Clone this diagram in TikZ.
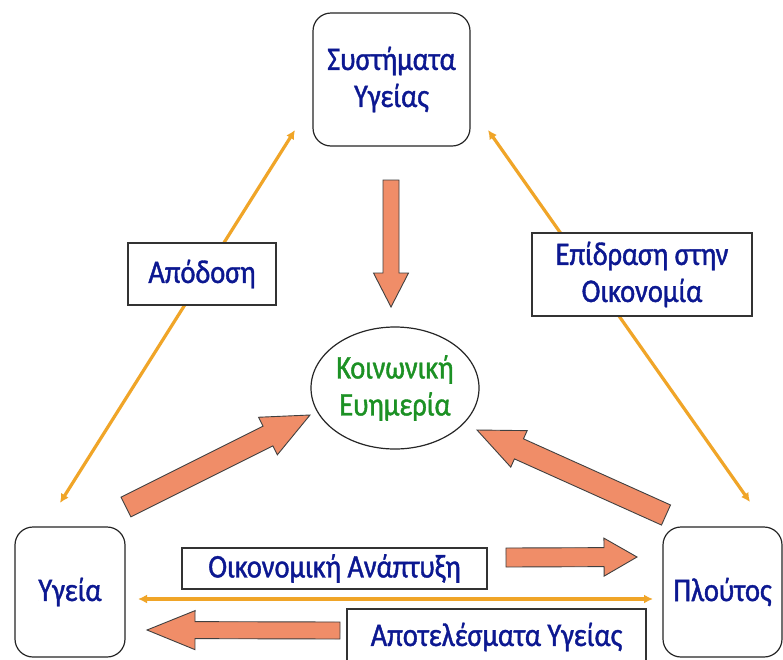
\documentclass[tikz,border=0pt]{standalone}
\usepackage{fontspec}
\setmainfont{Carlito}[FakeStretch=0.86, FakeBold=1.2]
\usetikzlibrary{calc,shapes.geometric,arrows.meta}
\usepackage{xcolor}

\definecolor{textblue}{RGB}{12,24,145}
\definecolor{textgreen}{RGB}{28,145,36}
\definecolor{salmon}{RGB}{240,141,104}
\definecolor{amber}{RGB}{240,165,40}

% block arrow: tail, tip, half shaft width, half head width, head length
\newcommand{\blockarrow}[5]{%
  \coordinate (headbase) at ($(#2)!#5!(#1)$);
  \draw[bigarrow] ($(#1)!#3!90:(#2)$) -- ($(headbase)!#3!-90:(#1)$)
    -- ($(headbase)!#4!-90:(#1)$) -- (#2) -- ($(headbase)!#4!90:(#1)$)
    -- ($(headbase)!#3!90:(#1)$) -- ($(#1)!#3!-90:(#2)$) -- cycle;}

\begin{document}
\begin{tikzpicture}
[x=1pt, y=-1pt,
every node/.style={font=\fontsize{33}{37}\selectfont, align=center, text=textblue},
% The factor style is used for the three rounded boxes
factor/.style={draw=black!85, line width=1.2pt, rounded corners=18pt, fill=white},
% The effect style is used for the names of the relations
effect/.style={rectangle, draw=black!80, line width=1.6pt, fill=white},
% The link style is used for the thin orange double arrows
link/.style={draw=amber, line width=3.2pt, {Latex[length=9pt,width=9pt]}-{Latex[length=9pt,width=9pt]}},
% The bigarrow style is used for the thick salmon arrows
bigarrow/.style={draw=black!75, line width=0.9pt, fill=salmon, line join=miter}
]
\useasboundingbox (0,0) rectangle (783,659);
\clip (0,0) rectangle (783,659);
\fill[white] (0,0) rectangle (783,659);

% Draw the orange links first, boxes come on top
\coordinate (systimataleft) at (295,130);
\coordinate (ygeiatop) at (60,503);
\coordinate (systimataright) at (488,130);
\coordinate (ploutostop) at (750,502);
\coordinate (ygeiaright) at (138,599);
\coordinate (ploutosleft) at (653,599);
\draw[link] (systimataleft) -- (ygeiatop);
\draw[link] (systimataright) -- (ploutostop);
\draw[link] (ygeiaright) -- (ploutosleft);

% Draw factors
\node [factor, minimum width=157pt, minimum height=133pt] (systimata) at (391.5,79.5) {Συστήματα\\Υγείας};
\node [factor, minimum width=110pt, minimum height=130pt] (ygeia) at (70,592) {Υγεία};
\node [factor, minimum width=119pt, minimum height=130pt] (ploutos) at (722.5,592) {Πλούτος};
\node [ellipse, draw=black!85, line width=1.2pt, fill=white, minimum width=168pt, minimum height=122pt, inner sep=0pt, text=textgreen] (evimeria) at (395,388) {Κοινωνική\\Ευημερία};

% Draw relations
\node [effect, minimum width=148pt, minimum height=62pt] (apodosi) at (202,274) {Απόδοση};
\node [effect, minimum width=220pt, minimum height=83pt] (epidrasi) at (642,274.5) {Επίδραση στην\\Οικονομία};
\node [effect, minimum width=305pt, minimum height=41pt, inner sep=0pt] (anaptyxi) at (334.5,568.5) {Οικονομική Ανάπτυξη};
\node [effect, minimum width=299pt, minimum height=56pt] (apotelesmata) at (496.5,637) {Αποτελέσματα Υγείας};

% Draw the big arrows
\coordinate (downtail) at (391,180);
\coordinate (downtip) at (391,307);
\coordinate (lefttail) at (126,507);
\coordinate (lefttip) at (310,415);
\coordinate (righttail) at (666,515);
\coordinate (righttip) at (477,430);
\coordinate (growthtail) at (506,557.5);
\coordinate (growthtip) at (637,557);
\coordinate (outcometail) at (340,630.5);
\coordinate (outcometip) at (147,630);
\blockarrow{downtail}{downtip}{8pt}{17.5pt}{34pt}
\blockarrow{lefttail}{lefttip}{11pt}{21pt}{47pt}
\blockarrow{righttail}{righttip}{11pt}{20pt}{46pt}
\blockarrow{growthtail}{growthtip}{9.5pt}{19pt}{33pt}
\blockarrow{outcometail}{outcometip}{8.5pt}{19.5pt}{48pt}
\end{tikzpicture}
\end{document}
